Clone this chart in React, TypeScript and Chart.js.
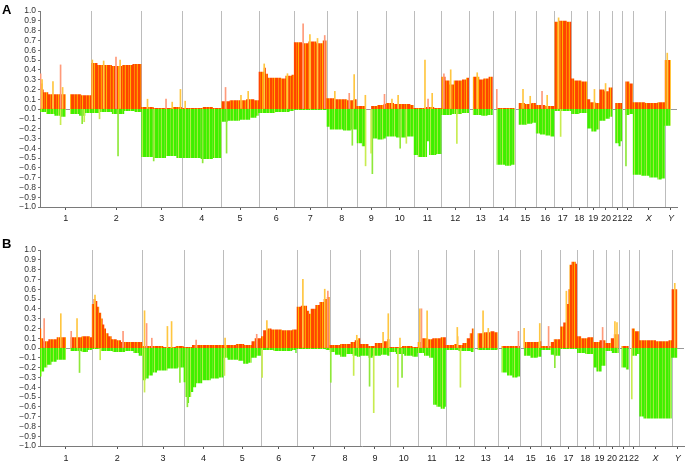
import React, { useEffect, useRef } from 'react';
import { Chart, registerables } from 'chart.js';
Chart.register(...registerables);

const chromosomes = ['1','2','3','4','5','6','7','8','9','10','11','12','13','14','15','16','17','18','19','20','21','22','X','Y'];
const chromLengthsMb = [249.3,243.2,198.0,191.2,180.9,171.1,159.1,146.4,141.2,135.5,135.0,133.9,115.2,107.3,102.5,90.4,81.2,78.1,59.1,63.0,48.1,51.3,155.3,59.4];

type Seg = [number, number];
// Panel A: per chromosome, [start Mb within chromosome, fraction]
const gainA: Seg[][] = [
  [[0,0.30],[5,0.26],[12,0.20],[18,0.17],[40,0.15],[125,0],[146,0.15],[200,0.14]],
  [[0,0.47],[30,0.45],[100,0.44],[150,0.45],[200,0.46]],
  [[0,0.02],[60,0.01],[150,0.02]],
  [[0,0.01],[100,0.02],[150,0.01]],
  [[0,0.08],[40,0.09],[120,0.10],[160,0.09]],
  [[0,0.38],[25,0.42],[35,0.36],[45,0.32],[110,0.31],[130,0.34],[160,0.35]],
  [[0,0.68],[40,0.67],[70,0.69],[110,0.67],[140,0.70]],
  [[0,0.11],[40,0.10],[100,0.09],[130,0.10]],
  [[0,0.03],[45,0],[70,0.03],[100,0.04],[130,0.05]],
  [[0,0.06],[40,0.05],[90,0.05],[120,0.04]],
  [[0,0.01],[60,0.02],[100,0.01]],
  [[0,0.33],[20,0.29],[40,0.25],[60,0.29],[100,0.30],[120,0.32]],
  [[0,0],[19,0.33],[50,0.30],[70,0.31],[95,0.33]],
  [[0,0],[19,0.01]],
  [[0,0],[19,0.06],[50,0.05],[80,0.06]],
  [[0,0.04],[46,0.03]],
  [[0,0.89],[20,0.90],[60,0.89]],
  [[0,0.31],[15,0.29],[50,0.28]],
  [[0,0.10],[15,0.07],[40,0.06]],
  [[0,0.20],[25,0.18],[45,0.22]],
  [[0,0],[14,0.06]],
  [[0,0],[15,0.28],[35,0.26]],
  [[0,0.07],[60,0.06],[120,0.07]],
  [[0,0.50],[29,0]],
];
const lossA: Seg[][] = [
  [[0,-0.03],[30,-0.05],[70,-0.07],[100,-0.08],[125,0],[146,-0.05],[190,-0.07],[220,-0.04]],
  [[0,-0.04],[40,-0.03],[100,-0.05],[160,-0.02],[210,-0.03]],
  [[0,-0.49],[60,-0.50],[120,-0.48],[170,-0.50]],
  [[0,-0.50],[90,-0.51],[150,-0.50]],
  [[0,-0.13],[30,-0.12],[90,-0.11],[140,-0.09],[170,-0.07]],
  [[0,-0.04],[80,-0.03],[150,-0.02]],
  [[0,-0.01]],
  [[0,-0.18],[15,-0.21],[80,-0.22],[120,-0.21]],
  [[0,-0.35],[25,-0.38],[45,0],[70,-0.30],[100,-0.31],[130,-0.30]],
  [[0,-0.28],[50,-0.29],[100,-0.28]],
  [[0,-0.47],[20,-0.49],[65,-0.33],[75,-0.47],[110,-0.46]],
  [[0,-0.06],[50,-0.05],[100,-0.04]],
  [[0,0],[19,-0.06],[60,-0.07],[90,-0.06]],
  [[0,0],[19,-0.57],[60,-0.58],[90,-0.57]],
  [[0,0],[19,-0.16],[60,-0.15],[85,-0.14]],
  [[0,-0.25],[20,-0.26],[46,-0.27],[70,-0.28]],
  [[0,-0.02]],
  [[0,-0.05],[40,-0.04]],
  [[0,-0.20],[20,-0.23],[45,-0.21]],
  [[0,-0.12],[30,-0.10],[50,-0.08]],
  [[0,0],[14,-0.35],[30,-0.38],[40,-0.33]],
  [[0,0],[15,-0.06],[35,-0.05]],
  [[0,-0.67],[40,-0.68],[80,-0.70],[120,-0.72],[140,-0.71]],
  [[0,-0.17],[29,0]],
];
// single-probe outliers: [chromosome index, Mb within chromosome, fraction]
const spikesA: [number, number, number][] = [
  [0,3,0.36],[0,10,0.30],[0,63,0.28],[0,100,0.45],[0,110,0.22],[0,100,-0.16],[0,205,-0.15],[0,215,-0.13],
  [1,5,0.50],[1,120,0.53],[1,140,0.50],[1,60,0.49],[1,130,-0.48],[1,40,-0.10],
  [2,30,0.10],[2,120,0.10],[2,150,0.07],[2,190,0.20],[2,60,-0.53],
  [3,15,0.08],[3,100,-0.55],
  [4,20,0.22],[4,130,0.18],[4,95,0.14],[4,25,-0.45],
  [5,27,0.46],[5,140,0.36],
  [6,45,0.87],[6,78,0.76],[6,115,0.72],[6,150,0.75],
  [7,134,0.35],[7,40,0.18],[7,110,0.16],[7,125,-0.37],
  [8,42,0.14],[8,135,0.15],[8,43,-0.58],[8,76,-0.66],[8,70,-0.45],
  [9,60,0.14],[9,30,0.10],[9,70,-0.40],[9,100,-0.35],
  [10,55,0.50],[10,70,0.10],[10,90,0.16],
  [11,45,0.40],[11,12,0.36],[11,75,-0.35],
  [12,40,0.37],
  [13,20,0.20],
  [14,40,0.20],[14,75,0.13],
  [15,30,0.18],[15,55,0.14],
  [16,20,0.93],[16,30,-0.28],
  [18,35,0.20],
  [19,30,0.26],
  [21,18,-0.58],
  [23,12,0.57],
];

// Panel B
const gainB: Seg[][] = [
  [[0,0.20],[6,0.10],[16,0.07],[40,0.09],[80,0.11],[125,0],[146,0.11],[200,0.12],[240,0.11]],
  [[0,0.45],[8,0.50],[18,0.48],[26,0.42],[35,0.36],[45,0.30],[52,0.24],[60,0.20],[68,0.15],[80,0.12],[95,0.09],[120,0.08],[140,0.06]],
  [[0,0.02],[100,0.01],[160,0.02]],
  [[0,0.01],[40,0.03]],
  [[0,0.03],[60,0.04],[100,0.03],[135,0.07],[150,0.10]],
  [[0,0.12],[10,0.18],[30,0.20],[50,0.19],[100,0.18],[150,0.19]],
  [[0,0.42],[20,0.43],[50,0.38],[60,0.35],[67,0.40],[90,0.44],[110,0.47],[130,0.50],[145,0.52]],
  [[0,0.03],[50,0.04],[100,0.06],[120,0.08],[135,0.10]],
  [[0,0.04],[40,0.02],[70,0.05],[110,0.07],[130,0.09]],
  [[0,0.01],[60,0.02],[110,0.01]],
  [[0,0.06],[20,0.10],[50,0.09],[70,0.10],[110,0.11]],
  [[0,0.03],[40,0.04],[55,0.12],[60,0.03],[80,0.05],[100,0.10],[115,0.15],[125,0.20]],
  [[0,0],[19,0.15],[50,0.16],[80,0.17],[100,0.16]],
  [[0,0],[19,0.02]],
  [[0,0],[19,0.06],[60,0.06],[90,0.07]],
  [[0,0.02],[45,0.06],[60,0.09]],
  [[0,0.22],[15,0.26],[28,0.30],[33,0.45],[40,0.60],[45,0.85],[55,0.88],[75,0.86]],
  [[0,0.12],[20,0.10],[50,0.11]],
  [[0,0.06],[30,0.08]],
  [[0,0.05],[25,0.10],[40,0.14]],
  [[0,0],[14,0.02]],
  [[0,0],[15,0.20],[30,0.17]],
  [[0,0.08],[80,0.07],[140,0.08]],
  [[0,0.60],[27,0]],
];
const lossB: Seg[][] = [
  [[0,-0.29],[8,-0.24],[20,-0.20],[35,-0.17],[55,-0.14],[80,-0.12],[125,0],[146,-0.03],[200,-0.04],[230,-0.02]],
  [[0,-0.01],[40,-0.03],[100,-0.04],[160,-0.03],[200,-0.05],[225,-0.08]],
  [[0,-0.33],[15,-0.31],[30,-0.28],[50,-0.25],[70,-0.23],[120,-0.21],[170,-0.20]],
  [[0,-0.35],[8,-0.50],[16,-0.56],[26,-0.50],[36,-0.45],[46,-0.40],[60,-0.36],[90,-0.33],[130,-0.31],[170,-0.30]],
  [[0,-0.10],[20,-0.12],[70,-0.13],[95,-0.16],[120,-0.15],[135,-0.10],[160,-0.08]],
  [[0,-0.02],[60,-0.03],[150,-0.02],[165,-0.05]],
  [[0,-0.01],[140,-0.02]],
  [[0,-0.04],[25,-0.07],[50,-0.09],[80,-0.06],[110,-0.08],[130,-0.09]],
  [[0,-0.08],[40,-0.10],[60,-0.08],[100,-0.07],[130,-0.08]],
  [[0,-0.04],[30,-0.06],[70,-0.08],[110,-0.09]],
  [[0,-0.05],[30,-0.08],[55,-0.10],[74,-0.58],[90,-0.60],[110,-0.62],[130,-0.60]],
  [[0,-0.02],[60,-0.03],[120,-0.04]],
  [[0,0],[19,-0.02]],
  [[0,0],[19,-0.25],[45,-0.28],[70,-0.30],[95,-0.29]],
  [[0,0],[19,-0.08],[50,-0.10],[85,-0.09]],
  [[0,-0.02],[45,-0.07],[60,-0.08]],
  [[0,-0.01]],
  [[0,-0.05],[40,-0.06]],
  [[0,-0.20],[15,-0.24],[40,-0.18]],
  [[0,-0.03],[30,-0.05]],
  [[0,0],[14,-0.20],[35,-0.22]],
  [[0,0],[15,-0.08],[40,-0.06]],
  [[0,-0.70],[20,-0.72]],
  [[0,-0.10],[27,0]],
];
const spikesB: [number, number, number][] = [
  [0,20,0.30],[0,100,0.35],[0,178,0.30],[0,150,0.17],[0,190,-0.25],
  [1,15,0.54],[1,150,0.17],[1,40,-0.12],
  [2,10,0.38],[2,20,0.25],[2,120,0.22],[2,140,0.27],[2,45,0.10],[2,10,-0.45],[2,180,-0.35],
  [3,60,0.08],[3,18,-0.60],
  [4,8,0.10],[4,160,0.14],[4,5,-0.28],
  [5,28,0.28],[5,5,-0.30],
  [6,30,0.70],[6,135,0.60],[6,150,0.58],
  [7,130,0.13],[7,5,-0.35],[7,115,-0.28],
  [8,135,0.35],[8,110,0.16],[8,45,-0.39],[8,65,-0.66],
  [9,50,0.10],[9,40,-0.40],[9,60,-0.30],
  [10,10,0.40],[10,18,0.40],[10,45,0.38],
  [11,55,0.21],[11,70,-0.40],
  [12,45,0.38],[12,70,0.20],
  [13,100,0.17],
  [14,20,0.20],[14,95,0.25],
  [15,35,0.22],[15,65,-0.20],
  [16,30,0.58],
  [18,45,0.21],
  [19,45,0.27],[19,55,0.26],
  [21,15,-0.52],
  [23,15,0.66],
];

const offsetsMb: number[] = chromLengthsMb.reduce((acc: number[], _len, i) => {
  acc.push(i === 0 ? 0 : acc[i - 1] + chromLengthsMb[i - 1]);
  return acc;
}, []);
const genomeMb = offsetsMb[offsetsMb.length - 1] + chromLengthsMb[chromLengthsMb.length - 1];
const centersMb = offsetsMb.map((o, i) => o + chromLengthsMb[i] / 2);

function stepPoints(segs: Seg[][]) {
  const pts: { x: number; y: number }[] = [];
  segs.forEach((chrom, c) => {
    const off = offsetsMb[c];
    chrom.forEach(([s, v], j) => {
      const e = j + 1 < chrom.length ? chrom[j + 1][0] : chromLengthsMb[c];
      pts.push({ x: off + s, y: v }, { x: off + e, y: v });
    });
  });
  return pts;
}
function spikePoints(sp: [number, number, number][]) {
  return sp.map(([c, p, v]) => ({ x: offsetsMb[c] + p, y: v }));
}

function stripePattern(colors: string[]) {
  const cv = document.createElement('canvas');
  cv.width = colors.length;
  cv.height = 4;
  const g = cv.getContext('2d')!;
  colors.forEach((col, i) => {
    g.fillStyle = col;
    g.fillRect(i, 0, 1, 4);
  });
  const ctx = document.createElement('canvas').getContext('2d')!;
  return ctx.createPattern(cv, 'repeat')!;
}

const FONT = '"Liberation Sans", Arial, Helvetica, sans-serif';

const separatorPlugin = {
  id: 'separators',
  beforeDatasetsDraw(chart: any) {
    const { ctx, chartArea, scales } = chart;
    const x = scales.x;
    ctx.save();
    ctx.strokeStyle = '#bcbcbc';
    ctx.lineWidth = 1;
    for (let c = 1; c < offsetsMb.length; c++) {
      const px = Math.round(x.getPixelForValue(offsetsMb[c])) + 0.5;
      ctx.beginPath();
      ctx.moveTo(px, chartArea.top);
      ctx.lineTo(px, chartArea.bottom);
      ctx.stroke();
    }
    ctx.restore();
  },
};

function makeConfig(gain: Seg[][], loss: Seg[][], spikes: [number, number, number][], pad: { top: number; right: number }, xHeight: number, labelPad: number) {
  const gainFill = stripePattern(['#ff4500','#ff4500','#ff8a00','#ff4500','#ff5a00','#ffa000','#ff4500','#ff4500','#ff7800','#ff4500','#ffb400','#ff4a00']);
  const lossFill = stripePattern(['#3ef000','#3ef000','#7ee82a','#3ef000','#4cf000','#a0ec40','#3ef000','#3ef000','#66e820','#3ef000','#b4ee48','#44f000']);
  return {
    type: 'bar' as const,
    data: {
      datasets: [
        {
          type: 'bar' as const,
          label: 'outliers',
          data: spikePoints(spikes),
          barThickness: 1,
          backgroundColor: (c: any) => (c.raw && c.raw.y > 0 ? (c.dataIndex % 3 === 0 ? '#ff9a7a' : '#ffc640') : (c.dataIndex % 2 === 0 ? '#8ee83a' : '#c8ec50')),
          borderWidth: 0,
          order: 0,
        },
        {
          type: 'line' as const,
          label: 'gain',
          data: stepPoints(gain),
          borderWidth: 0,
          pointRadius: 0,
          fill: 'origin',
          backgroundColor: gainFill,
          tension: 0,
          order: 1,
        },
        {
          type: 'line' as const,
          label: 'loss',
          data: stepPoints(loss),
          borderWidth: 0,
          pointRadius: 0,
          fill: 'origin',
          backgroundColor: lossFill,
          tension: 0,
          order: 1,
        },
      ],
    },
    options: {
      animation: false as const,
      responsive: false,
      maintainAspectRatio: false,
      layout: { padding: { top: pad.top, right: pad.right, left: 0, bottom: 0 } },
      plugins: { legend: { display: false }, tooltip: { enabled: false } },
      scales: {
        x: {
          type: 'linear' as const,
          min: 0,
          max: genomeMb,
          offset: false,
          afterBuildTicks: (scale: any) => {
            scale.ticks = centersMb.map((v) => ({ value: v }));
          },
          afterFit: (scale: any) => {
            scale.height = xHeight;
          },
          ticks: {
            autoSkip: false,
            maxRotation: 0,
            padding: labelPad,
            color: '#222',
            font: (c: any) => ({ family: FONT, size: 9, style: c.index >= 22 ? 'italic' : 'normal' }),
            callback: (_v: any, i: number) => chromosomes[i],
          },
          grid: { display: true, drawOnChartArea: false, offset: false, tickLength: 3, tickColor: '#555' },
          border: { display: true, color: '#7a7a7a', width: 1 },
        },
        y: {
          min: -1,
          max: 1,
          afterFit: (scale: any) => {
            scale.width = 40;
          },
          ticks: {
            stepSize: 0.1,
            autoSkip: false,
            padding: 2,
            color: '#333',
            font: { family: FONT, size: 8.5 },
            callback: (v: any) => {
              const n = Number(v);
              const s = Math.abs(n).toFixed(1);
              return n < -1e-9 ? '\u2212' + s : s;
            },
          },
          grid: {
            drawOnChartArea: true,
            color: (c: any) => (c.tick && Math.abs(c.tick.value) < 1e-9 ? '#9a9a9a' : 'rgba(0,0,0,0)'),
            tickColor: '#777',
            tickLength: 2,
          },
          border: { display: true, color: '#7a7a7a', width: 1 },
        },
      },
    },
    plugins: [separatorPlugin],
  };
}

function Panel({ gain, loss, spikes, height, pad, xHeight, labelPad }: any) {
  const ref = useRef<HTMLCanvasElement>(null);
  useEffect(() => {
    if (!ref.current) return;
    const chart = new Chart(ref.current, makeConfig(gain, loss, spikes, pad, xHeight, labelPad) as any);
    return () => chart.destroy();
  }, []);
  return <canvas ref={ref} width={685} height={height} style={{ display: 'block', width: 685, height }} />;
}

const letterStyle: React.CSSProperties = {
  position: 'absolute',
  left: 2,
  fontFamily: FONT,
  fontWeight: 'bold',
  fontSize: 13,
  lineHeight: '13px',
  color: '#000',
};

export default function App() {
  return (
    <div style={{ position: 'absolute', left: 0, top: 0, width: 685, height: 463, background: '#fff', overflow: 'hidden' }}>
      <div style={{ position: 'absolute', left: 0, top: 0 }}>
        <Panel gain={gainA} loss={lossA} spikes={spikesA} height={231} pad={{ top: 11, right: 8 }} xHeight={24} labelPad={3} />
      </div>
      <div style={{ position: 'absolute', left: 0, top: 231 }}>
        <Panel gain={gainB} loss={lossB} spikes={spikesB} height={232} pad={{ top: 19, right: 1 }} xHeight={17} labelPad={4} />
      </div>
      <div style={{ ...letterStyle, top: 3 }}>A</div>
      <div style={{ ...letterStyle, top: 237 }}>B</div>
    </div>
  );
}
